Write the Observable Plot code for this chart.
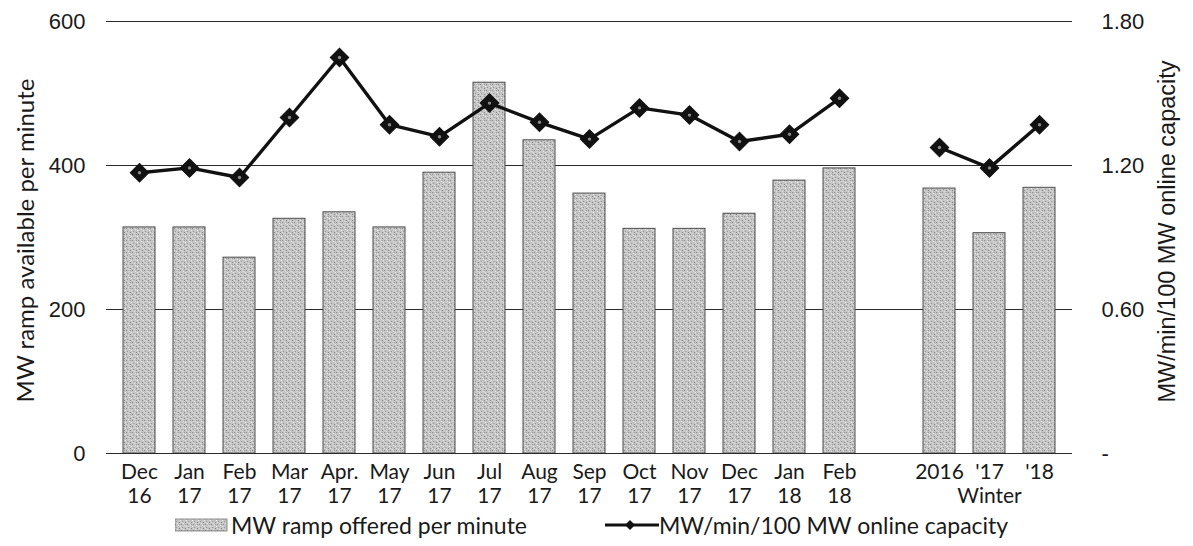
<!DOCTYPE html>
<html>
<head>
<meta charset="utf-8">
<script src="https://cdn.jsdelivr.net/npm/d3@7"></script>
<script src="https://cdn.jsdelivr.net/npm/@observablehq/plot@0.6"></script>
<style>
  body { margin: 0; background: #fff; }
  #chart svg { display: block; }
  #legend { position: relative; width: 1193px; height: 34px; font-family: Lato, "Open Sans", sans-serif; font-size: 23px; color: #1a1a1a; }
  #legend .item { position: absolute; top: 0px; display: flex; align-items: center; white-space: nowrap; line-height: 26px; }
</style>
</head>
<body>
<div id="chart"></div>
<div id="legend"></div>
<script>
// ---- data ----
const categories = ["Dec 16","Jan 17","Feb 17","Mar 17","Apr 17","May 17","Jun 17","Jul 17","Aug 17","Sep 17","Oct 17","Nov 17","Dec 17","Jan 18","Feb 18","gap","Winter 2016","Winter 2017","Winter 2018"];
const tickLabels = ["Dec\n16","Jan\n17","Feb\n17","Mar\n17","Apr.\n17","May\n17","Jun\n17","Jul\n17","Aug\n17","Sep\n17","Oct\n17","Nov\n17","Dec\n17","Jan\n18","Feb\n18","","2016","'17\nWinter","'18"];
const rampOffered = [314,314,272,326,335,314,390,515,435,361,312,312,333,379,396,null,368,306,369];
const rampPerCapacity = [1.17,1.19,1.15,1.40,1.65,1.37,1.32,1.46,1.38,1.31,1.44,1.41,1.30,1.33,1.48,null,1.275,1.19,1.37];
const groups = ["month","month","month","month","month","month","month","month","month","month","month","month","month","month","month",null,"winter","winter","winter"];
const leftTicks = [0,200,400,600];
const rightTicks = [0,0.60,1.20,1.80];
const barLegend = "MW ramp offered per minute";
const lineLegend = "MW/min/100 MW online capacity";
const leftTitle = "MW ramp available per minute";
const rightTitle = "MW/min/100 MW online capacity";

// right axis maps 1.80 onto 600
const ratioToLeft = 600 / 1.80;

const rows = categories.map((c, i) => ({cat: c, label: tickLabels[i], ramp: rampOffered[i], ratio: rampPerCapacity[i], group: groups[i]}));
const bars = rows.filter(d => d.ramp != null);
const pts = rows.filter(d => d.ratio != null);
const labelOf = new Map(rows.map(d => [d.cat, d.label]));

const chart = Plot.plot({
  width: 1193,
  height: 512,
  marginLeft: 106,
  marginRight: 121,
  marginTop: 21,
  marginBottom: 59,
  style: {background: "#fff", color: "#1a1a1a"},
  x: {domain: categories, paddingInner: 0.37, paddingOuter: 0.195, axis: null},
  y: {domain: [0, 600], axis: null},
  marks: [
    Plot.ruleY(leftTicks, {stroke: "#2a2a2a", strokeWidth: 1.1}),
    Plot.barY(bars, {x: "cat", y: "ramp", fill: "url(#stipple)", stroke: "#4d4d4d", strokeWidth: 1}),
    Plot.ruleY([0], {stroke: "#2a2a2a", strokeWidth: 1.1}),
    Plot.line(pts, {x: "cat", y: d => d.ratio * ratioToLeft, z: "group", stroke: "#111", strokeWidth: 3.4}),
    Plot.dot(pts, {x: "cat", y: d => d.ratio * ratioToLeft, symbol: "square", rotate: 45, r: 7.4, fill: "#111", stroke: "#111", strokeWidth: 1}),
    Plot.dot(pts, {x: "cat", y: d => d.ratio * ratioToLeft, r: 1.7, fill: "#8a8a8a"}),
    Plot.axisX({domain: categories, tickSize: 0, tickPadding: 8, tickFormat: d => labelOf.get(d), fontSize: 21, fontFamily: "Lato, sans-serif", lineHeight: 1.15, label: null}),
    Plot.axisY(leftTicks, {anchor: "left", tickSize: 0, tickPadding: 21, fontSize: 22, fontFamily: "Liberation Sans, Arial, sans-serif", label: null}),
    Plot.axisY(rightTicks.map(v => v * ratioToLeft), {anchor: "right", tickSize: 0, tickPadding: 29, fontSize: 22, fontFamily: "Liberation Sans, Arial, sans-serif", tickFormat: d => d === 0 ? "-" : (d / ratioToLeft).toFixed(2), label: null}),
    Plot.text([leftTitle], {frameAnchor: "left", textAnchor: "middle", dx: -80, dy: 3, rotate: -90, fontSize: 24, fontFamily: "Lato, sans-serif", fill: "#1a1a1a"}),
    Plot.text([rightTitle], {frameAnchor: "right", textAnchor: "middle", dx: 95, dy: -6, rotate: -90, fontSize: 23.5, fontFamily: "Liberation Sans, Arial, sans-serif", fill: "#1a1a1a"})
  ]
});

// stipple texture for the bars (styling only)
function addPattern(svg) {
  const ns = "http://www.w3.org/2000/svg";
  const defs = document.createElementNS(ns, "defs");
  const p = document.createElementNS(ns, "pattern");
  p.setAttribute("id", "stipple");
  p.setAttribute("patternUnits", "userSpaceOnUse");
  p.setAttribute("width", "6"); p.setAttribute("height", "6");
  const base = document.createElementNS(ns, "rect");
  base.setAttribute("width", "6"); base.setAttribute("height", "6"); base.setAttribute("fill", "#c4c4c4");
  p.appendChild(base);
  const dots = [[0,0,"#8c8c8c"],[3,1,"#e6e6e6"],[1,3,"#9a9a9a"],[4,4,"#888"],[5,2,"#eee"],[2,5,"#e0e0e0"],[4,0,"#a0a0a0"],[0,4,"#dcdcdc"]];
  for (const [x, y, c] of dots) {
    const r = document.createElementNS(ns, "rect");
    r.setAttribute("x", x); r.setAttribute("y", y); r.setAttribute("width", 1); r.setAttribute("height", 1); r.setAttribute("fill", c);
    p.appendChild(r);
  }
  defs.appendChild(p);
  svg.insertBefore(defs, svg.firstChild);
}
addPattern(chart);
document.getElementById("chart").appendChild(chart);

// legend below the chart
const legend = document.getElementById("legend");
legend.innerHTML = `
  <div class="item" style="left:175px">
    <svg width="54" height="14" style="margin-right:2px"><rect x="0" y="1" width="52" height="12" fill="url(#stipple)" stroke="#777" stroke-width="0.8"/></svg>
    <span>${barLegend}</span>
  </div>
  <div class="item" style="left:605px">
    <svg width="54" height="16"><line x1="0" y1="8" x2="54" y2="8" stroke="#111" stroke-width="3"/><path d="M25 3 L30 8 L25 13 L20 8 Z" fill="#111"/></svg>
    <span>${lineLegend}</span>
  </div>`;
</script>
</body>
</html>
